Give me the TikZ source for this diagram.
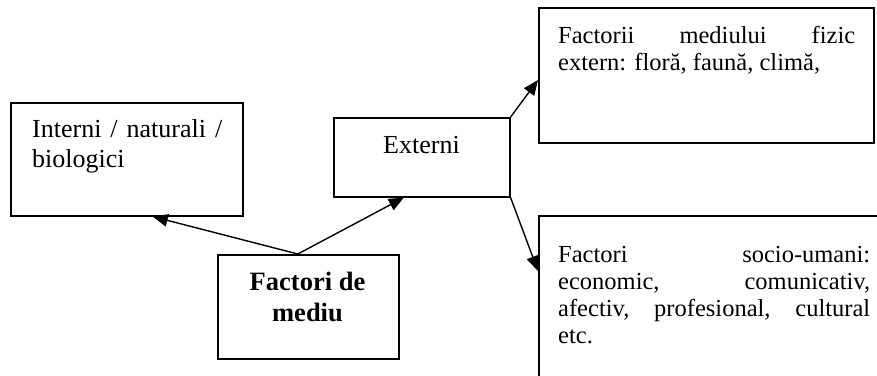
\documentclass[tikz,border=0pt]{standalone}
\usepackage{fontspec}
\setmainfont{Liberation Serif}
\usetikzlibrary{arrows.meta,calc}
\newcommand\smallbody{\fontsize{24.5}{27}\selectfont}
\newcommand\largebody{\fontsize{26}{30}\selectfont}
\newcommand\headsize{\fontsize{26.5}{31}\selectfont}
\tikzset{
  box/.style={draw, line width=1.6pt, inner sep=0pt, anchor=north west},
  txt/.style={anchor=north west, inner sep=0pt, align=left},
  link/.style={line width=1.4pt, -{Triangle[length=15pt,width=12.5pt]}}
}
\begin{document}
\begin{tikzpicture}[x=1pt,y=-1pt]
\useasboundingbox (0,0) rectangle (877,375);
\clip (0,0) rectangle (877,375);

% frames
\node[box, minimum width=232pt, minimum height=113pt] (int) at (10,102) {};
\node[box, minimum width=176pt, minimum height=79pt]  (ext) at (333,117) {};
\node[box, minimum width=181pt, minimum height=104pt] (fm)  at (217,254) {};
\node[box, minimum width=335pt, minimum height=135pt] (phy) at (538,7) {};
\node[box, minimum width=352pt, minimum height=180pt] (soc) at (538,215) {};

% texts (top of each node = first baseline minus strut height)
\node[txt, font=\largebody] (intT) at (32,116) {\strut\makebox[190pt][s]{Interni / naturali /}\\biologici};
\node[txt, font=\largebody] (extT) at (383,132) {\strut Externi};
\node[txt, font=\smallbody] (phyT) at (558,24.1) {\strut\makebox[297pt][s]{Factorii mediului fizic}\\extern: floră, faună, climă,};
\node[txt, font=\smallbody] (socT) at (558,243.1) {\strut\makebox[312pt][s]{Factori socio-umani:}\\
  \makebox[312pt][s]{economic, comunicativ,}\\
  \makebox[312pt][s]{afectiv, profesional, cultural}\\etc.};
\node[anchor=north, inner sep=0pt, align=center, font=\headsize\bfseries] (fmT) at (307.5,268.3)
  {\strut Factori de\\mediu};

% connectors
\draw[link] ($(fm.north)+(-10.5,0)$) -- ($(int.south)+(26,0)$);
\draw[link] ($(fm.north)+(-10.5,0)$) -- ($(ext.south)+(-18,0)$);
\draw[link] (ext.north east) -- ($(phy.north west)+(0,73)$);
\draw[link] (ext.south east) -- ($(soc.north west)+(0,56)$);
\end{tikzpicture}
\end{document}
